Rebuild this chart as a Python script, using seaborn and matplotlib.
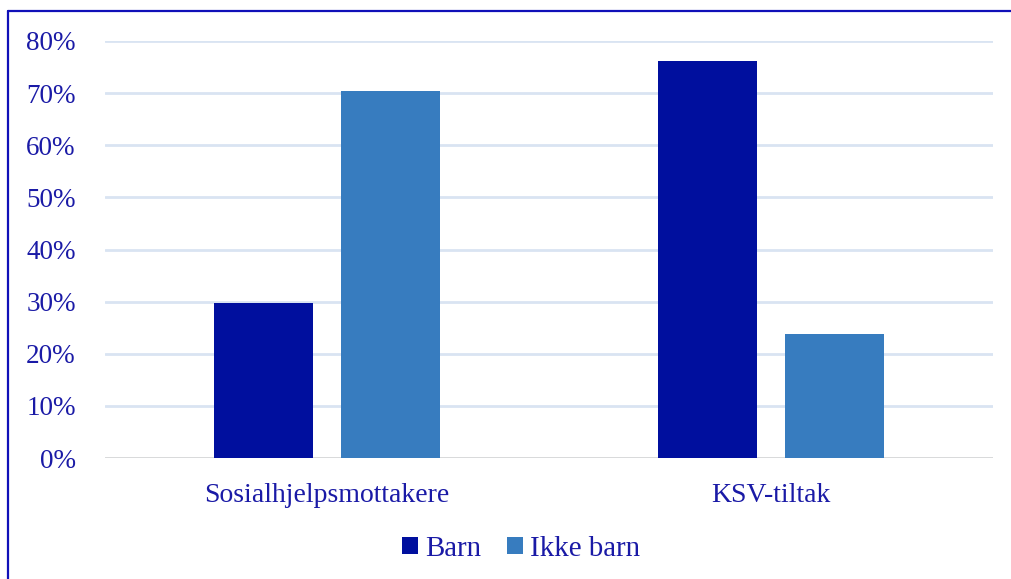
import matplotlib
matplotlib.use("Agg")
import matplotlib.pyplot as plt
import seaborn as sns
import pandas as pd
from matplotlib.lines import Line2D
from matplotlib.ticker import PercentFormatter

categories = ["Sosialhjelpsmottakere", "KSV-tiltak"]
series = ["Barn", "Ikke barn"]
barn = [0.297, 0.762]
ikke_barn = [0.704, 0.238]
yticks = [0, 0.1, 0.2, 0.3, 0.4, 0.5, 0.6, 0.7, 0.8]

df = pd.DataFrame({
    "Kategori": categories * 2,
    "Gruppe": [series[0]] * 2 + [series[1]] * 2,
    "Andel": barn + ikke_barn,
})

sns.set_theme(style="white")
plt.rcParams["font.family"] = ["Liberation Serif", "DejaVu Serif"]
txt = "#1A1AA6"

fig = plt.figure(figsize=(10.11, 5.79), dpi=100)
ax = fig.add_axes([105 / 1011, 1 - 458 / 579, 888 / 1011, (458 - 41) / 579])

sns.barplot(data=df, x="Kategori", y="Andel", hue="Gruppe", order=categories,
            hue_order=series, palette=["#000F9E", "#377CBF"], saturation=1,
            width=0.572, gap=0.22, edgecolor="none", ax=ax, zorder=3)

ax.set_xlim(-0.5, 1.5)
ax.set_ylim(0, 0.8)
ax.set_yticks(yticks)
ax.yaxis.set_major_formatter(PercentFormatter(1.0, decimals=0))
ax.grid(axis="y", color="#D9E4F2", linewidth=2, zorder=0)
ax.set_axisbelow(True)
ax.axhline(0, color="#D9D9D9", linewidth=2, zorder=2)
for s in ax.spines.values():
    s.set_visible(False)
ax.set_xlabel("")
ax.set_ylabel("")
ax.tick_params(axis="y", length=0, pad=21, labelsize=19.5, labelcolor=txt)
ax.tick_params(axis="x", length=0, pad=18, labelsize=20, labelcolor=txt)

handles, labels = ax.get_legend_handles_labels()
ax.legend(handles, labels, loc="center", bbox_to_anchor=(521 / 1011, 1 - 549 / 579),
          bbox_transform=fig.transFigure, ncol=2, frameon=False, fontsize=20.8,
          labelcolor=txt, handlelength=0.55, handleheight=0.55, handletextpad=0.25,
          columnspacing=0.9, borderaxespad=0)

bc = "#1010B8"
fig.add_artist(Line2D([8 / 1011, 8 / 1011], [1 - 11 / 579, 0], transform=fig.transFigure,
                      color=bc, linewidth=1.6))
fig.add_artist(Line2D([8 / 1011, 1], [1 - 11 / 579, 1 - 11 / 579], transform=fig.transFigure,
                      color=bc, linewidth=1.6))

fig.savefig("out.png", dpi=100)
